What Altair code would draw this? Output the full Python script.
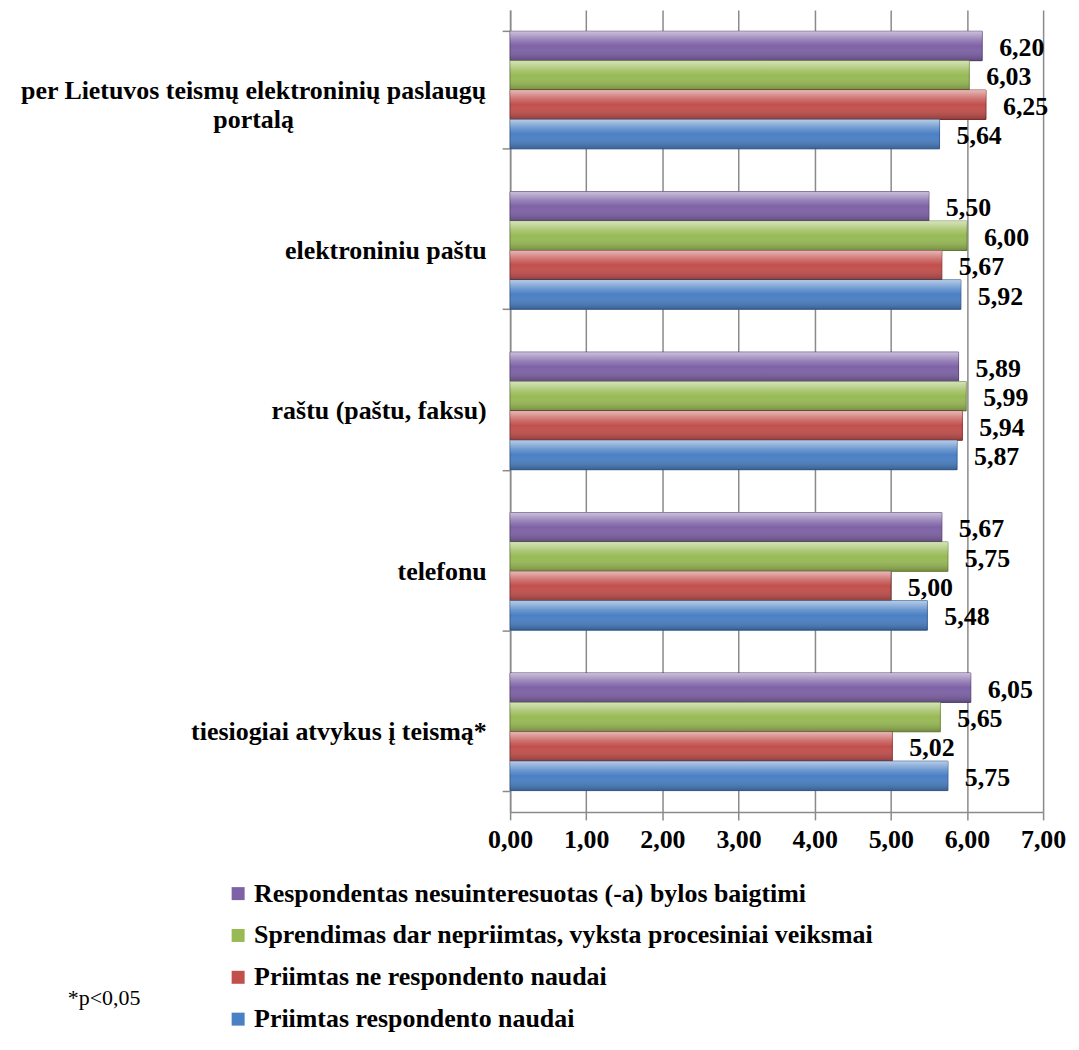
import altair as alt
import pandas as pd

categories = [
    "per Lietuvos teismų elektroninių paslaugų portalą",
    "elektroniniu paštu",
    "raštu (paštu, faksu)",
    "telefonu",
    "tiesiogiai atvykus į teismą*",
]
series = [
    "Respondentas nesuinteresuotas (-a) bylos baigtimi",
    "Sprendimas dar nepriimtas, vyksta procesiniai veiksmai",
    "Priimtas ne respondento naudai",
    "Priimtas respondento naudai",
]
colors = ["#7E62A6", "#98BA55", "#C24F4C", "#4A80C4"]
edge_colors = ["#5A4478", "#6E8A3A", "#8C3432", "#355E94"]

vals_purple = [6.20, 5.50, 5.89, 5.67, 6.05]
vals_green = [6.03, 6.00, 5.99, 5.75, 5.65]
vals_red = [6.25, 5.67, 5.94, 5.00, 5.02]
vals_blue = [5.64, 5.92, 5.87, 5.48, 5.75]
x_ticks = [0, 1, 2, 3, 4, 5, 6, 7]
note = "*p<0,05"

FONT = "Liberation Serif"

rows = []
for s, vals in zip(series, [vals_purple, vals_green, vals_red, vals_blue]):
    for c, v in zip(categories, vals):
        rows.append({"category": c, "series": s, "value": v})
df = pd.DataFrame(rows)

long_cat = categories[0]
test_long = f"datum.value == '{long_cat}'"

y_axis = alt.Axis(
    title=None,
    labelExpr=f"datum.value == '{long_cat}' ? ['per Lietuvos teismų elektroninių paslaugų', 'portalą'] : datum.label",
    labelAlign={"condition": {"test": test_long, "value": "center"}, "value": "right"},
    labelPadding={"condition": {"test": test_long, "value": 250}, "value": 16},
    labelFont=FONT,
    labelFontSize=26,
    labelFontWeight="bold",
    labelColor="black",
    labelLimit=1000,
    labelLineHeight=30,
    tickBand="extent",
    tickSize=8,
    tickColor="#8a8a8a",
    tickWidth=1.5,
    domainColor="#8a8a8a",
    domainWidth=1.5,
    grid=False,
)

x_axis = alt.Axis(
    title=None,
    values=x_ticks,
    labelExpr="replace(format(datum.value, '.2f'), '.', ',')",
    labelFont=FONT,
    labelFontSize=26,
    labelFontWeight="bold",
    labelColor="black",
    labelPadding=7,
    labelFlush=False,
    labelOverlap=False,
    tickSize=8,
    tickColor="#8a8a8a",
    tickWidth=1.5,
    domainColor="#8a8a8a",
    domainWidth=1.5,
    grid=True,
    gridColor="#8a8a8a",
    gridWidth=1.5,
)

base = alt.Chart(df).encode(
    y=alt.Y("category:N", sort=categories,
            scale=alt.Scale(paddingInner=0.267, paddingOuter=0.133), axis=y_axis),
    yOffset=alt.YOffset("series:N", sort=series,
                        scale=alt.Scale(domain=series, paddingInner=0, paddingOuter=0)),
    x=alt.X("value:Q", scale=alt.Scale(domain=[0, 7], nice=False), axis=x_axis),
)

bars = base.mark_bar(strokeWidth=1).encode(
    color=alt.Color(
        "series:N",
        scale=alt.Scale(domain=series, range=colors),
        legend=alt.Legend(
            title=None, orient="none", legendX=-286, legendY=874,
            direction="vertical", symbolType="square", symbolSize=170,
            symbolStrokeWidth=0,
            labelFont=FONT, labelFontSize=26, labelFontWeight="bold",
            labelColor="black", labelLimit=1000, rowPadding=16, labelOffset=3,
        ),
    ),
    stroke=alt.Stroke("series:N", scale=alt.Scale(domain=series, range=edge_colors), legend=None),
)

shine = base.mark_bar(
    color=alt.Gradient(
        gradient="linear", x1=0, x2=0, y1=0, y2=1,
        stops=[
            alt.GradientStop(color="rgba(255,255,255,0.6)", offset=0),
            alt.GradientStop(color="rgba(255,255,255,0.2)", offset=0.3),
            alt.GradientStop(color="rgba(255,255,255,0)", offset=0.5),
            alt.GradientStop(color="rgba(0,0,0,0.25)", offset=1),
        ],
    )
)

labels = base.transform_calculate(
    label="replace(format(datum.value, '.2f'), '.', ',')"
).mark_text(
    align="left", baseline="middle", dx=17, dy=2,
    font=FONT, fontSize=26, fontWeight="bold", color="black",
).encode(text="label:N")

note_layer = alt.Chart(pd.DataFrame({"t": [note]})).mark_text(
    align="left", baseline="middle", font=FONT, fontSize=22, color="black",
).encode(text="t:N", x=alt.value(-444), y=alt.value(992))

chart = alt.layer(bars, shine, labels, note_layer).properties(
    width=535, height=805,
    autosize=alt.AutoSizeParams(type="none"),
    padding={"left": 504, "top": 0, "right": 28, "bottom": 230},
).configure_view(stroke=None)

chart.save("out.html", embed_options={"renderer": "svg", "actions": False})
